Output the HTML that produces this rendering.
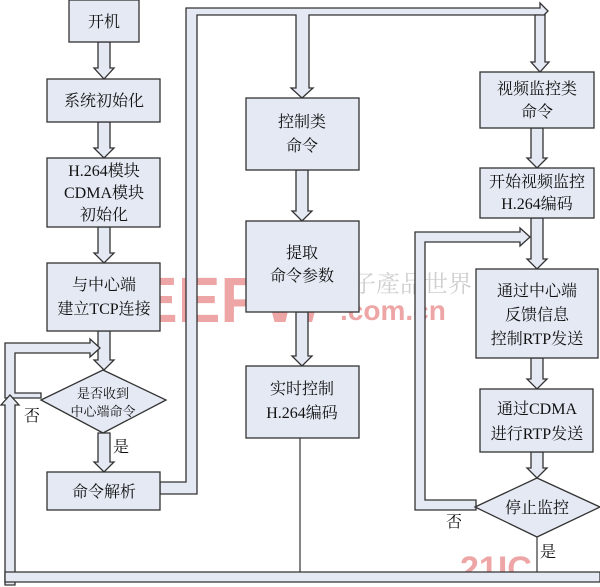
<!DOCTYPE html>
<html><head><meta charset="utf-8"><style>
body{margin:0;background:#fff}
svg{display:block}
text{font-family:"Liberation Serif","Noto Serif CJK SC",serif;font-size:16px;fill:#111;text-anchor:middle}
</style></head><body>
<svg width="600" height="587" viewBox="0 0 600 587" xmlns="http://www.w3.org/2000/svg">
<text x="135" y="322" style="font-size:64px;font-weight:bold;font-family:'Liberation Sans',sans-serif;fill:#e88888;text-anchor:start;opacity:.75">EEPW</text>
<text x="340" y="320" style="font-size:28px;font-weight:bold;font-family:'Liberation Sans',sans-serif;fill:#e88888;text-anchor:start;opacity:.75">.com.cn</text>
<text x="400" y="292" style="font-size:24px;fill:#bbb;opacity:.7">電子產品世界</text>
<text x="460" y="580" style="font-size:34px;font-weight:bold;font-family:'Liberation Sans',sans-serif;fill:#e88888;text-anchor:start;opacity:.75">21IC</text>
<g fill="#e4e9f3" stroke="#333" stroke-width="1.3">
<path d="M98 42 V68 H94 L104 79 L114 68 H110 V42 Z"/>
<path d="M98 122 V148 H94 L104 158 L114 148 H110 V122 Z"/>
<path d="M98 227 V253 H94 L104 263 L114 253 H110 V227 Z"/>
<path d="M98 331 V360 H94 L104 370 L114 360 H110 V331 Z"/>
<path d="M98 433 V462 H94 L104 472 L114 462 H110 V433 Z"/>
<path d="M5 398 V343 H90 V339 L100 348 L90 357 V353 H15 V393 H41 V398 Z"/>
<path d="M5 585 V405 H1 L10 395 L19 405 H15 V585 Z"/>
<path d="M5 572 H600 V582 H5 Z"/>
<path d="M160 482 H186 V8 H540 V3 L548 11 L540 19 V15 H309 V88 H313 L302 98 L291 88 H296 V15 H197 V494 H160 Z"/>
<path d="M535 15 V62 H531 L540 72 L549 62 H545 V15 Z"/>
<path d="M296 170 V211 H292 L302 221 L312 211 H308 V170 Z"/>
<path d="M296 312 V356 H292 L302 366 L312 356 H308 V312 Z"/>
<path d="M531 128 V158 H527 L537 168 L547 158 H543 V128 Z"/>
<path d="M531 218 V259 H527 L537 269 L547 259 H543 V218 Z"/>
<path d="M531 358 V379 H527 L537 389 L547 379 H543 V358 Z"/>
<path d="M531 452 V468 H527 L537 478 L547 468 H543 V452 Z"/>
<path d="M415 510 V232 H520 V228 L530 237 L520 246 V242 H425 V500 H476 V510 Z"/>
<rect x="69" y="0" width="70" height="42"/>
<rect x="47" y="79" width="113" height="43"/>
<rect x="47" y="158" width="113" height="69"/>
<rect x="47" y="263" width="113" height="68"/>
<polygon points="41,400 103,370 166,400 103,433"/>
<rect x="47" y="472" width="113" height="38"/>
<rect x="246" y="98" width="113" height="72"/>
<rect x="246" y="221" width="113" height="91"/>
<rect x="246" y="366" width="113" height="72"/>
<rect x="480" y="72" width="114" height="56"/>
<rect x="480" y="168" width="114" height="50"/>
<rect x="476" y="269" width="122" height="89"/>
<rect x="480" y="389" width="113" height="63"/>
<polygon points="475,507 537,478 600,507 537,537"/>
</g>
<g stroke="#333" stroke-width="1.2" fill="none">
<path d="M300 438 V572"/><path d="M537 537 V572"/>
</g>
<text x="104" y="27">开机</text>
<text x="104" y="106">系统初始化</text>
<text x="104" y="176">H.264模块</text>
<text x="104" y="198">CDMA模块</text>
<text x="104" y="220">初始化</text>
<text x="104" y="290">与中心端</text>
<text x="104" y="314">建立TCP连接</text>
<text x="103" y="398" style="font-size:13px">是否收到</text>
<text x="103" y="416" style="font-size:13px">中心端命令</text>
<text x="121" y="452">是</text>
<text x="32" y="421">否</text>
<text x="104" y="497">命令解析</text>
<text x="302" y="127">控制类</text>
<text x="302" y="151">命令</text>
<text x="302" y="258">提取</text>
<text x="302" y="281">命令参数</text>
<text x="302" y="394">实时控制</text>
<text x="302" y="418">H.264编码</text>
<text x="537" y="94">视频监控类</text>
<text x="537" y="117">命令</text>
<text x="537" y="187">开始视频监控</text>
<text x="537" y="209">H.264编码</text>
<text x="537" y="296">通过中心端</text>
<text x="537" y="320">反馈信息</text>
<text x="537" y="344">控制RTP发送</text>
<text x="537" y="414">通过CDMA</text>
<text x="537" y="439">进行RTP发送</text>
<text x="537" y="513">停止监控</text>
<text x="454" y="527">否</text>
<text x="548" y="557">是</text>
</svg>
</body></html>
